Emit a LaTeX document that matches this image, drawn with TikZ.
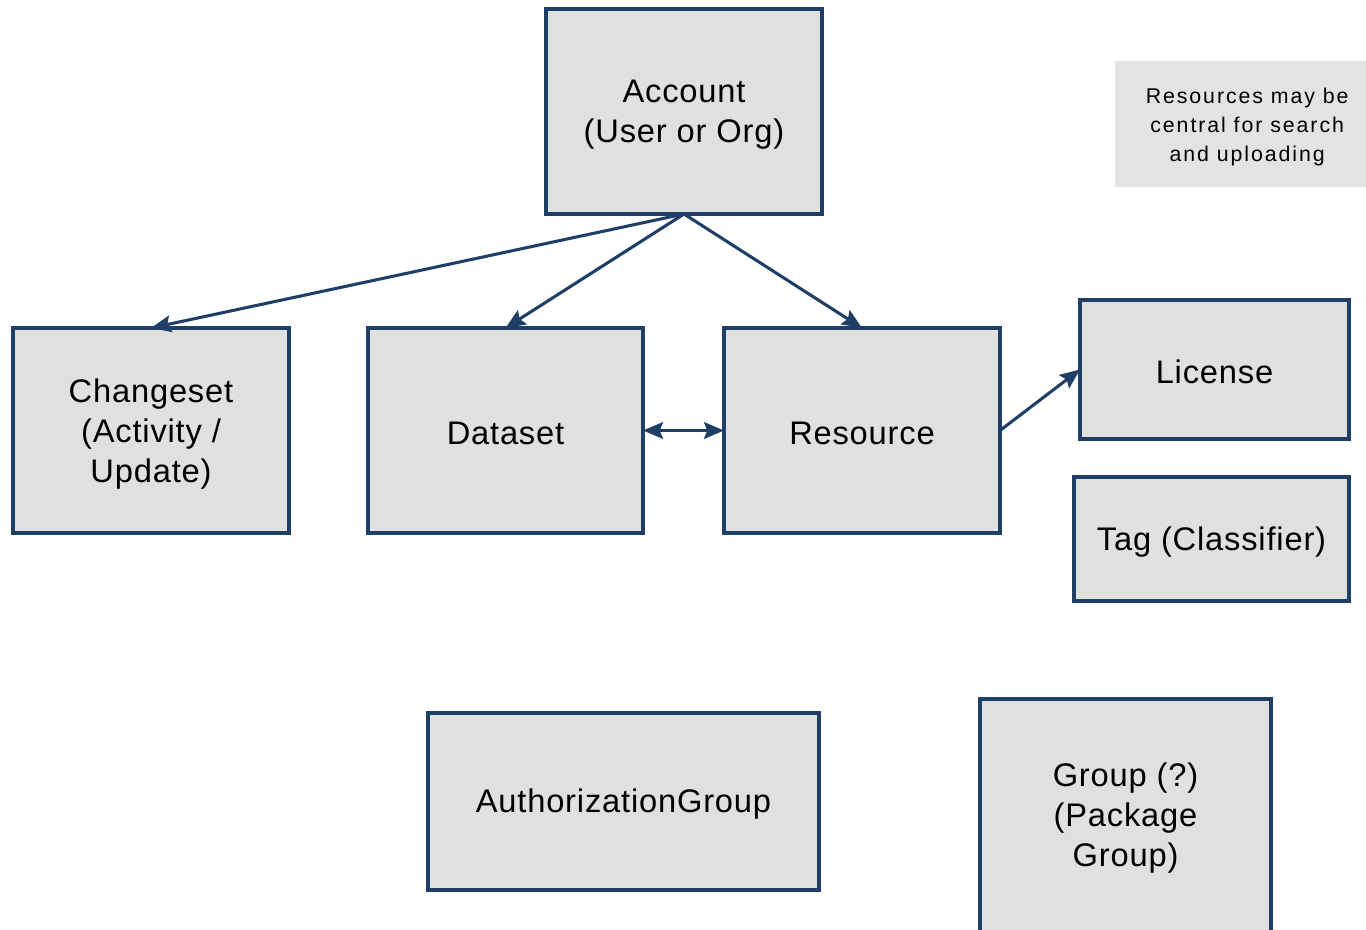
\documentclass[tikz,border=0pt]{standalone}
\usepackage{fontspec}
\setmainfont{Liberation Sans}
\usetikzlibrary{arrows.meta}
\definecolor{edgeblue}{HTML}{1F3F66}
\definecolor{boxfill}{HTML}{E0E0DE}
\definecolor{notefill}{HTML}{E3E3E3}
\begin{document}
\begin{tikzpicture}[x=0.75pt,y=-0.75pt,
  entity/.style={draw=edgeblue,fill=boxfill,line width=2.7pt,inner sep=0pt,outer sep=0pt},
  etext/.style={inner sep=0pt,align=center,font=\fontsize{24.5}{30}\selectfont\addfontfeature{LetterSpace=2.5}},
  conn/.style={draw=edgeblue,line width=2.3pt,-{Stealth[length=15pt,width=12.5pt,inset=2.5pt]}},
  biconn/.style={draw=edgeblue,line width=2.3pt,{Stealth[length=15pt,width=12.5pt,inset=2.5pt]}-{Stealth[length=15pt,width=12.5pt,inset=2.5pt]}},
  note/.style={fill=notefill,inner sep=0pt},
  ntext/.style={inner sep=0pt,align=center,
    font=\fontsize{16}{21.75}\selectfont\addfontfeature{LetterSpace=9}}]
\useasboundingbox (0,0) rectangle (1366,930);
\clip (0,0) rectangle (1366,930);
\node[entity,minimum width=276*0.75pt,minimum height=205*0.75pt] (acc) at (684,111.5) {};
\node[entity,minimum width=276*0.75pt,minimum height=205*0.75pt] (ch) at (151,430.5) {};
\node[entity,minimum width=275*0.75pt,minimum height=205*0.75pt] (ds) at (505.5,430.5) {};
\node[entity,minimum width=276*0.75pt,minimum height=205*0.75pt] (res) at (862,430.5) {};
\node[entity,minimum width=269*0.75pt,minimum height=139*0.75pt] (lic) at (1214.5,369.5) {};
\node[entity,minimum width=275*0.75pt,minimum height=124*0.75pt] (tag) at (1211.5,539) {};
\node[entity,minimum width=391*0.75pt,minimum height=177*0.75pt] (ag) at (623.5,801.5) {};
\node[entity,minimum width=291*0.75pt,minimum height=233*0.75pt] (grp) at (1125.5,815.5) {};
\node[note,minimum width=251*0.75pt,minimum height=126*0.75pt] (nt) at (1240.5,124) {};
\node[etext] (acct) at ([yshift=-2.5pt]acc.center) {Account\\(User or Org)};
\node[etext] (cht) at ([yshift=-2.5pt]ch.center) {Changeset\\(Activity /\\Update)};
\node[etext] (dst) at ([yshift=-2pt]ds.center) {Dataset};
\node[etext] (rest) at ([yshift=-2pt]res.center) {Resource};
\node[etext] (lict) at ([yshift=-2pt]lic.center) {License};
\node[etext] (tagt) at ([yshift=-2pt]tag.center) {Tag (Classifier)};
\node[etext] (agt) at ([yshift=-2pt]ag.center) {AuthorizationGroup};
\node[etext] (grpt) at ([yshift=-2pt]grp.center) {Group (?)\\(Package\\Group)};
\node[ntext] (ntt) at ([xshift=5pt,yshift=-2pt]nt.center) {Resources may be\\central for search\\and uploading};
\draw[conn] (acc.south) -- (ch.north);
\draw[conn] (acc.south) -- (ds.north);
\draw[conn] (acc.south) -- (res.north);
\draw[biconn] (ds.east) -- (res.west);
\draw[conn] (res.east) -- (lic.west);
\end{tikzpicture}
\end{document}
